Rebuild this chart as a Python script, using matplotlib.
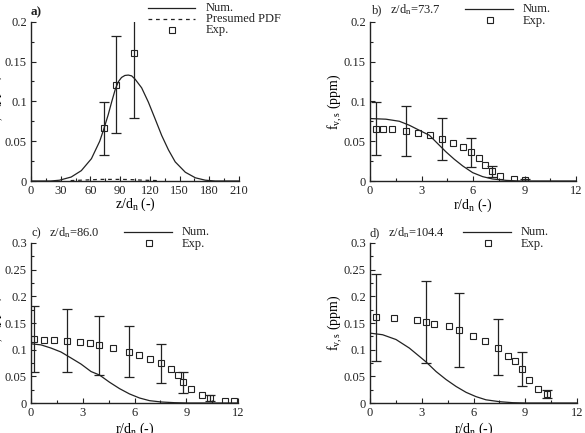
import matplotlib
matplotlib.use("Agg")
import matplotlib.pyplot as plt
from matplotlib.lines import Line2D
from matplotlib.ticker import MultipleLocator, FuncFormatter

plt.rcParams['font.family'] = ['Liberation Serif', 'DejaVu Serif']
plt.rcParams['mathtext.fontset'] = 'custom'
plt.rcParams['mathtext.rm'] = 'Liberation Serif'
plt.rcParams['mathtext.it'] = 'Liberation Serif:italic'

# ---------------- data ----------------
# panel a: axial profile
za_num = [0, 20, 28.8, 40.6, 50.8, 61, 69.4, 73.7, 77.9, 81.6, 85.3, 88.4, 91.4, 94.8,
          98.2, 101.6, 105, 111.7, 118.5, 125.3, 132, 138.8, 145.6, 155.8, 166, 176,
          186, 210]
fa_num = [0, 0, 0.001, 0.005, 0.013, 0.028, 0.050, 0.066, 0.083, 0.100, 0.116, 0.125,
          0.130, 0.1325, 0.133, 0.132, 0.128, 0.117, 0.099, 0.078, 0.057, 0.039, 0.024,
          0.011, 0.004, 0.001, 0, 0]
za_pdf = [40, 50, 60, 70, 80, 90, 100, 110, 120, 130]
fa_pdf = [0.0005, 0.001, 0.0015, 0.002, 0.002, 0.002, 0.0018, 0.0012, 0.0008, 0.0004]
za_exp = [73.7, 86.0, 104.4]
fa_exp = [0.0662, 0.121, 0.161]
fa_lo = [0.0331, 0.0604, 0.0797]
fa_hi = [0.0994, 0.1815, 0.242]

# panel b: z/dn = 73.7
rb_num = [0, 0.93, 1.71, 2.29, 2.87, 3.46, 3.94, 4.43, 4.91, 5.40, 5.98, 6.56, 7.15,
          7.92, 8.7, 12]
fb_num = [0.0784, 0.0776, 0.075, 0.070, 0.0637, 0.0574, 0.047, 0.0365, 0.0273, 0.0189,
          0.0105, 0.0055, 0.0025, 0.0008, 0, 0]
rb_exp = [0.35, 0.78, 1.26, 2.10, 2.78, 3.51, 4.19, 4.82, 5.42, 5.90, 6.37, 6.72, 7.11,
          7.59, 8.39, 9.05]
fb_exp = [0.0658, 0.065, 0.065, 0.0625, 0.0608, 0.0579, 0.0532, 0.0482, 0.0428, 0.0361,
          0.0289, 0.0201, 0.0122, 0.0059, 0.0025, 0.0013]
rb_err = [0.35, 2.10, 4.19, 5.90, 7.11, 9.05]
fb_err = [0.0658, 0.0625, 0.0532, 0.0361, 0.0122, 0.0013]
fb_lo = [0.0331, 0.031, 0.0264, 0.0176, 0.0055, 0.0003]
fb_hi = [0.0994, 0.0943, 0.0797, 0.054, 0.0189, 0.0023]

# panel c: z/dn = 86.0
rc_num = [0, 0.58, 1.16, 1.74, 2.32, 2.90, 3.48, 3.97, 4.55, 5.13, 5.71, 6.29, 6.87,
          7.55, 8.32, 9.1, 12]
fc_num = [0.111, 0.109, 0.103, 0.0956, 0.0844, 0.073, 0.059, 0.0525, 0.039, 0.027,
          0.017, 0.0094, 0.0044, 0.0019, 0.0006, 0, 0]
rc_exp = [0.15, 0.77, 1.35, 2.09, 2.86, 3.43, 3.97, 4.78, 5.69, 6.25, 6.89, 7.51, 8.13,
          8.53, 8.84, 9.25, 9.89, 10.35, 11.22, 11.75]
fc_exp = [0.1206, 0.119, 0.119, 0.117, 0.114, 0.1125, 0.109, 0.104, 0.0956, 0.0906,
          0.083, 0.0744, 0.063, 0.0525, 0.0388, 0.026, 0.015, 0.0088, 0.0044, 0.003]
rc_err = [0.15, 2.09, 3.97, 5.69, 7.51, 8.84, 10.35]
fc_err = [0.1206, 0.117, 0.109, 0.0956, 0.0744, 0.0388, 0.0088]
fc_lo = [0.059, 0.0575, 0.053, 0.048, 0.037, 0.019, 0.0038]
fc_hi = [0.182, 0.177, 0.164, 0.144, 0.111, 0.058, 0.0156]

# panel d: z/dn = 104.4
rd_num = [0, 0.73, 1.51, 2.28, 2.86, 3.25, 3.83, 4.41, 4.99, 5.57, 6.14, 6.72, 7.5,
          8.27, 9.04, 12]
fd_num = [0.131, 0.128, 0.119, 0.103, 0.0875, 0.077, 0.059, 0.044, 0.031, 0.020, 0.012,
          0.006, 0.0025, 0.0006, 0, 0]
rd_exp = [0.37, 1.41, 2.71, 3.23, 3.73, 4.56, 5.16, 5.99, 6.67, 7.40, 7.98, 8.41, 8.79,
          9.22, 9.76, 10.28]
fd_exp = [0.1606, 0.159, 0.156, 0.152, 0.149, 0.144, 0.136, 0.126, 0.116, 0.104, 0.089,
          0.078, 0.063, 0.044, 0.027, 0.016]
rd_err = [0.37, 3.23, 5.16, 7.40, 8.79, 10.28]
fd_err = [0.1606, 0.152, 0.136, 0.104, 0.063, 0.016]
fd_lo = [0.079, 0.075, 0.0675, 0.052, 0.031, 0.009]
fd_hi = [0.242, 0.229, 0.206, 0.1575, 0.0956, 0.024]

# ---------------- figure ----------------
W, H = 585, 433
fig = plt.figure(figsize=(W / 100, H / 100), dpi=100)
LC = '#222222'
FS = 9


def px(x, y):
    return x / W, 1 - y / H


def make_ax(x0, ytop, x1, ybot):
    ax = fig.add_axes([x0 / W, 1 - ybot / H, (x1 - x0) / W, (ybot - ytop) / H])
    for s in ('top', 'right'):
        ax.spines[s].set_visible(False)
    for s in ('left', 'bottom'):
        ax.spines[s].set_linewidth(1.0)
        ax.spines[s].set_color(LC)
    ax.tick_params(which='both', direction='in', labelsize=FS, colors=LC, pad=3)
    ax.tick_params(which='major', length=3.5, width=0.8)
    ax.tick_params(which='minor', length=2, width=0.8)
    return ax


def errs(vals, lo, hi):
    return [[v - l for v, l in zip(vals, lo)], [h - v for v, h in zip(vals, hi)]]


mk = dict(marker='s', ms=4, mfc='none', mec=LC, mew=0.8, ls='none')
eb = dict(fmt='none', ecolor=LC, elinewidth=0.9, capsize=3.5, capthick=0.9)

ylab = r'f$_{\mathrm{v,s}}$ (ppm)'


def setup(ax, xmax, xmaj, xmin, ymax, xlabel, xoff):
    ax.set_xlim(0, xmax)
    ax.set_ylim(0, ymax)
    ax.xaxis.set_major_locator(MultipleLocator(xmaj))
    ax.xaxis.set_minor_locator(MultipleLocator(xmin))
    ax.yaxis.set_major_locator(MultipleLocator(0.05))
    ax.yaxis.set_minor_locator(MultipleLocator(0.025))
    ax.set_xlabel(xlabel, fontsize=10)
    ax.set_ylabel(ylab, fontsize=10)
    w = ax.get_position().width * W
    h = ax.get_position().height * H
    ax.yaxis.set_label_coords(-26 / w, 0.5)
    ax.xaxis.set_label_coords(0.5, -xoff / h)


def fmt(v, pos):
    if abs(v) < 1e-12:
        return '0'
    return ('%.2f' % v).rstrip('0').rstrip('.')


# panel a
axa = make_ax(31, 21.7, 239, 181)
axa.plot(za_num, fa_num, color=LC, lw=0.9)
axa.plot(za_pdf, fa_pdf, color=LC, lw=0.9, ls=(0, (3, 3)))
axa.errorbar(za_exp, fa_exp, yerr=errs(fa_exp, fa_lo, fa_hi), **eb)
axa.plot(za_exp, fa_exp, **mk)
setup(axa, 210, 30, 15, 0.2, r'z/d$_\mathrm{n}$ (-)', 15)

# panel b
axb = make_ax(370, 21.7, 576, 181)
axb.plot(rb_num, fb_num, color=LC, lw=0.9)
axb.errorbar(rb_err, fb_err, yerr=errs(fb_err, fb_lo, fb_hi), **eb)
axb.plot(rb_exp, fb_exp, **mk)
setup(axb, 12, 3, 1.5, 0.2, r'r/d$_\mathrm{n}$ (-)', 16)

# panel c
axc = make_ax(31, 243, 238, 403)
axc.plot(rc_num, fc_num, color=LC, lw=0.9)
axc.errorbar(rc_err, fc_err, yerr=errs(fc_err, fc_lo, fc_hi), **eb)
axc.plot(rc_exp, fc_exp, **mk)
setup(axc, 12, 3, 1.5, 0.3, r'r/d$_\mathrm{n}$ (-)', 18)

# panel d
axd = make_ax(370, 243, 577, 403)
axd.plot(rd_num, fd_num, color=LC, lw=0.9)
axd.errorbar(rd_err, fd_err, yerr=errs(fd_err, fd_lo, fd_hi), **eb)
axd.plot(rd_exp, fd_exp, **mk)
setup(axd, 12, 3, 1.5, 0.3, r'r/d$_\mathrm{n}$ (-)', 18)

for ax in (axa, axb, axc, axd):
    ax.yaxis.set_major_formatter(FuncFormatter(fmt))

# panel titles & legends
fig.text(*px(31, 12), 'a)', fontsize=9.5, fontweight='bold', ha='left', va='center', color=LC)


def leg_line(x0, x1, y, **kw):
    (a, b), (c, d) = px(x0, y), px(x1, y)
    fig.add_artist(Line2D([a, c], [b, d], color=LC, lw=0.9, **kw))


def leg_mark(x, y):
    a, b = px(x, y)
    fig.add_artist(Line2D([a], [b], **mk))


def txt(x, y, s, **kw):
    fig.text(*px(x, y), s, fontsize=FS, ha='left', va='center', color=LC, **kw)


# legend a
leg_line(148, 195, 8)
txt(206, 8, 'Num.')
leg_line(148, 195, 19, ls=(0, (3, 3)))
txt(206, 19, 'Presumed PDF')
leg_mark(172, 30)
txt(206, 30, 'Exp.')

# b, c, d titles + legends
for (xp, yp, lab, zt) in [(372, 10, 'b)', r'z/d$_\mathrm{n}$=73.7'),
                          (31, 233, 'c)', r'z/d$_\mathrm{n}$=86.0'),
                          (370, 233, 'd)', r'z/d$_\mathrm{n}$=104.4')]:
    txt(xp, yp, lab)
    txt(xp + 18, yp, zt)
    lx0 = xp + 93
    leg_line(lx0, lx0 + 48, yp - 1)
    txt(lx0 + 58, yp - 1, 'Num.')
    leg_mark(lx0 + 25, yp + 10)
    txt(lx0 + 58, yp + 11, 'Exp.')

fig.savefig('out.png', dpi=100)
